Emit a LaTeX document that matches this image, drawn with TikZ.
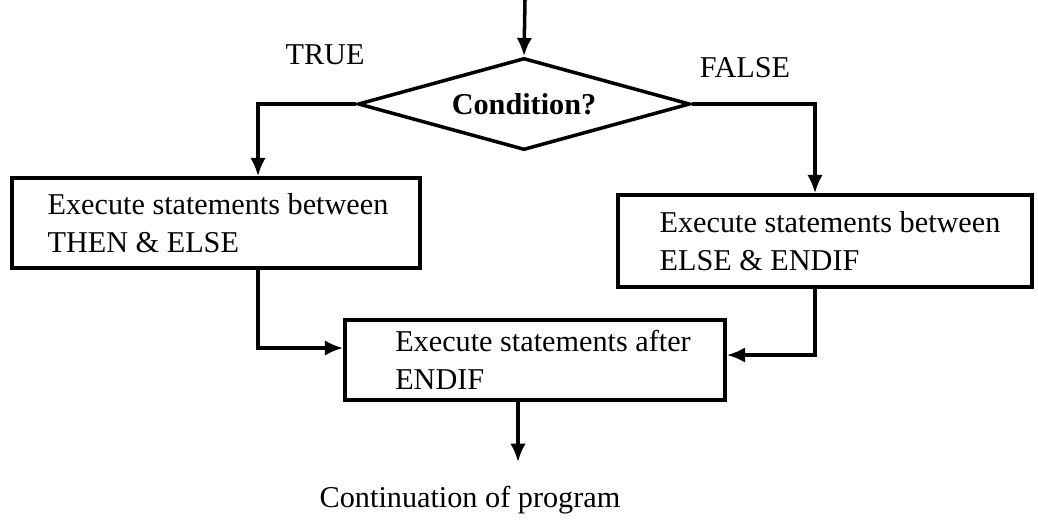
\documentclass[tikz,border=0pt]{standalone}
\usepackage{fontspec}
\setmainfont{Liberation Serif}
\usetikzlibrary{shapes.geometric,arrows.meta}
\begin{document}
\begin{tikzpicture}[x=0.025cm, y=-0.025cm, line width=2.5pt,
  >={Latex[length=13pt,width=11pt]}]
\tikzstyle{every node}=[font=\fontsize{21.5}{27}\selectfont];
\tikzstyle{procbox}=[draw, align=left, inner sep=0pt];
\tikzstyle{decision}=[draw, shape=diamond, aspect=3.6, inner sep=0pt,
  minimum width=8.3cm, minimum height=2.3cm];
\useasboundingbox (0,0) rectangle (1038,529);
\coordinate (start) at (525,0);
\node [decision, font=\fontsize{21.5}{27}\selectfont\bfseries] (cond) at (524,104) {Condition?};
\node [draw=none] (true) at (325,55) {TRUE};
\node [draw=none] (false) at (745,68) {FALSE};
\node [procbox, minimum width=10.2cm, minimum height=2.25cm] (then) at (216,223)
  {\hspace*{0.1cm}Execute statements between\\\hspace*{0.1cm}THEN \& ELSE};
\node [procbox, minimum width=10.35cm, minimum height=2.3cm] (else) at (825,241)
  {\hspace*{0.25cm}Execute statements between\\\hspace*{0.25cm}ELSE \& ENDIF};
\node [procbox, minimum width=9.5cm, minimum height=2cm] (after) at (535,360)
  {\hspace*{0.4cm}Execute statements after\\\hspace*{0.4cm}ENDIF};
\coordinate (next) at (518,462);
\node (cont) at (470,500) {Continuation of program};
\draw [->] (start) -- (cond.north);
\draw [->] (cond.west) -| ([xshift=1.05cm]then.north);
\draw [->] (cond.east) -| ([xshift=-0.25cm]else.north);
\draw [->] ([xshift=1.05cm]then.south) |- ([yshift=0.3cm]after.west);
\draw [->] ([xshift=-0.25cm]else.south) |- ([yshift=0.125cm]after.east);
\draw [->] (after.south -| next) -- (next);
\end{tikzpicture}
\end{document}
